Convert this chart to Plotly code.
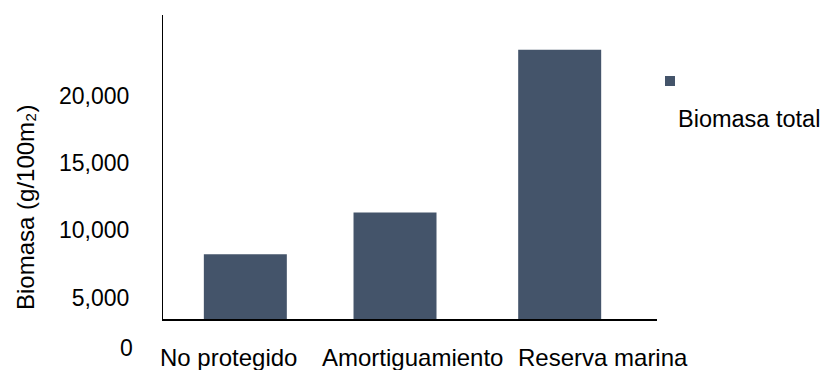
import plotly.graph_objects as go

categories = ["No protegido", "Amortiguamiento", "Reserva marina"]
biomasa_total = [8200, 11300, 23400]
series_name = "Biomasa total"
y_tick_vals = [5000, 10000, 15000, 20000]
y_tick_text = ["5,000", "10,000", "15,000", "20,000"]
zero_label = "0"
y_title = "Biomasa (g/100m₂)"

BAR_COLOR = "#44546A"
FONT = "Liberation Sans, Arial, sans-serif"

# per-bar placement (style): bars are not evenly centred in the reference
bar_width = 0.504
bar_offsets = [-0.252, -0.343, -0.343]

fig = go.Figure()
fig.add_trace(go.Bar(
    x=categories, y=biomasa_total, name=series_name,
    width=bar_width, offset=bar_offsets,
    marker=dict(color=BAR_COLOR, line=dict(width=0)),
    showlegend=False,
))

# category labels (placed individually, as in the reference)
label_shifts = [-17, 2, 28]
for cat, dx in zip(categories, label_shifts):
    fig.add_annotation(x=cat, xref="x", y=-0.125, yref="paper", text=cat,
                       showarrow=False, xanchor="center", yanchor="middle",
                       xshift=dx, font=dict(size=24, color="black", family=FONT))

fig.add_annotation(x=-0.056, xref="paper", y=-0.0954, yref="paper", text=zero_label,
                   showarrow=False, xanchor="right", yanchor="middle",
                   font=dict(size=23, color="black", family=FONT))

fig.add_annotation(x=-0.2794, xref="paper", y=0.3684, yref="paper", text=y_title,
                   textangle=-90, showarrow=False, xanchor="center", yanchor="middle",
                   font=dict(size=24, color="black", family=FONT))

# legend-like marker and text
fig.add_shape(type="rect", xref="paper", yref="paper",
              x0=1.0162, x1=1.0364, y0=0.7664, y1=0.7993,
              fillcolor=BAR_COLOR, line=dict(width=0))
fig.add_annotation(x=1.0385, xref="paper", y=0.6579, yref="paper", text=series_name,
                   showarrow=False, xanchor="left", yanchor="middle",
                   font=dict(size=23.5, color="black", family=FONT))

fig.update_layout(
    width=822, height=370,
    margin=dict(l=163, r=165, t=15, b=51),
    paper_bgcolor="white", plot_bgcolor="white",
    font=dict(family=FONT, size=23, color="black"),
    xaxis=dict(showticklabels=False, ticks="", showgrid=False, zeroline=False,
               showline=True, linecolor="black", linewidth=1.5,
               range=[-0.5, 2.5]),
    yaxis=dict(range=[3400, 25974], tickvals=y_tick_vals, ticktext=y_tick_text,
               ticks="", showgrid=False, zeroline=False, showline=True,
               linecolor="black", linewidth=1.2, ticklabelstandoff=28,
               tickfont=dict(size=23, color="black", family=FONT)),
)

fig.write_html("out.html")
